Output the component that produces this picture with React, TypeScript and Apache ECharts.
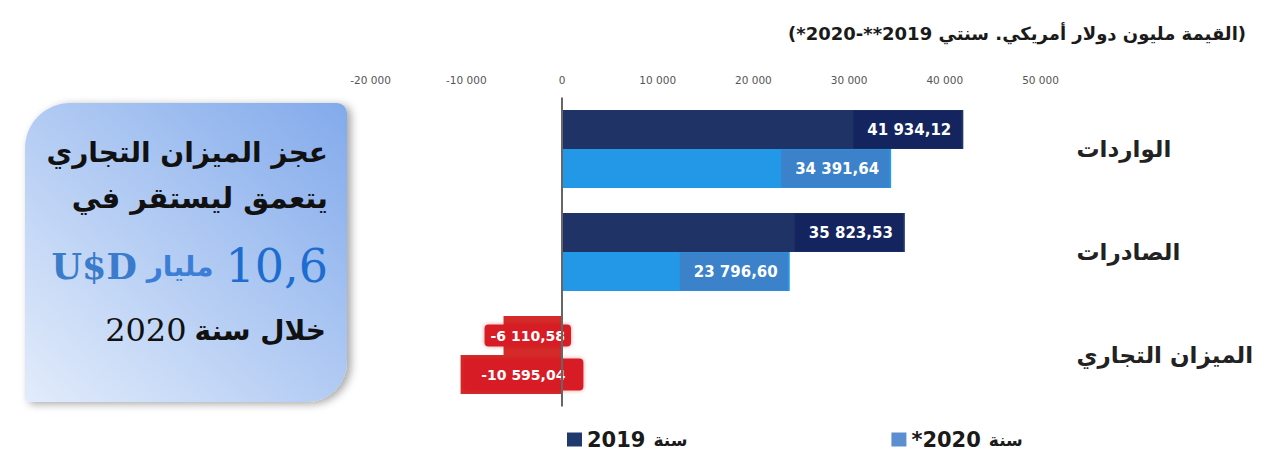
import React, { useEffect, useRef } from "react";
import * as echarts from "echarts";

const categories = ["الواردات", "الصادرات", "الميزان التجاري"];
const values2019 = [41934.12, 35823.53, -6110.58];
const values2020 = [34391.64, 23796.6, -10595.04];
const axisTicks = [-20000, -10000, 0, 10000, 20000, 30000, 40000, 50000];
const legendNames = ["2019", "*2020"];
const title = "(القيمة مليون دولار أمريكي. سنتي 2019**-2020*)";

const fmtNum = (v: number, dec: number) => {
  const neg = v < 0;
  const a = Math.abs(v);
  const fixed = a.toFixed(dec);
  const [ip, dp] = fixed.split(".");
  const grouped = ip.replace(/\B(?=(\d{3})+(?!\d))/g, " ");
  return (neg ? "-" : "") + grouped + (dp ? "," + dp : "");
};
// force left-to-right visual order for numeric strings
const ltr = (s: string) => "\u202D" + s + "\u202C";

const ARABIC = "'DejaVu Sans', sans-serif";
const SERIF = "'DejaVu Serif', serif";

export default function App() {
  const ref = useRef<HTMLDivElement>(null);
  useEffect(() => {
    if (!ref.current) return;
    const chart = echarts.init(ref.current, undefined, { renderer: "svg" });

    const posLabel = (bg: string) => ({
      show: true,
      position: "insideRight",
      distance: 2,
      color: "#ffffff",
      fontFamily: ARABIC,
      fontWeight: "bold",
      fontSize: 15,
      lineHeight: 16,
      backgroundColor: bg,
      padding: [11, 10, 11, 14],
      formatter: (p: any) => ltr(fmtNum(p.value, 2)),
    });
    const negLabel = (offX: number, pad: number[]) => ({
      show: true,
      position: "inside",
      offset: [offX, 0],
      color: "#ffffff",
      fontFamily: ARABIC,
      fontWeight: "bold",
      fontSize: 14,
      lineHeight: 16,
      backgroundColor: "#d81f26",
      borderRadius: 4,
      shadowColor: "rgba(200,0,0,0.4)",
      shadowBlur: 4,
      padding: pad,
      formatter: (p: any) => ltr(fmtNum(p.value, 2)),
    });

    const buildData = (vals: number[], color: string, bg: string, neg: any) =>
      vals.map((v) =>
        v < 0
          ? { value: v, itemStyle: { color: "#d42a2a" }, label: neg }
          : { value: v, itemStyle: { color }, label: posLabel(bg) }
      );

    const option: any = {
      animation: false,
      backgroundColor: "#ffffff",
      textStyle: { fontFamily: ARABIC },
      grid: { left: 370.6, right: 223.5, top: 97.5, bottom: 55.5 },
      legend: {
        left: 562,
        top: 424,
        icon: "rect",
        itemWidth: 15,
        itemHeight: 14,
        itemGap: 204,
        data: [
          { name: legendNames[0], itemStyle: { color: "#203a6e" } },
          { name: legendNames[1], itemStyle: { color: "#5b8fd2" } },
        ],
        formatter: (n: string) => `{y|${n}}{s|سنة}`,
        textStyle: {
          rich: {
            y: { fontFamily: ARABIC, fontWeight: "bold", fontSize: 21, color: "#1a1a1a", padding: [0, 8, 0, 0] },
            s: { fontFamily: ARABIC, fontWeight: "bold", fontSize: 17, color: "#1a1a1a" },
          },
        },
      },
      xAxis: {
        type: "value",
        position: "top",
        min: axisTicks[0],
        max: axisTicks[axisTicks.length - 1],
        interval: 10000,
        axisLine: { show: false },
        axisTick: { show: false },
        splitLine: { show: false },
        axisLabel: {
          margin: 12,
          fontSize: 10.5,
          color: "#555",
          fontFamily: ARABIC,
          formatter: (v: number) => ltr(fmtNum(v, 0)),
        },
      },
      yAxis: {
        type: "category",
        data: categories,
        inverse: true,
        position: "right",
        axisLine: { show: false },
        axisTick: { show: false },
        axisLabel: {
          margin: 36,
          fontSize: 23,
          fontWeight: "bold",
          color: "#222",
          fontFamily: ARABIC,
          align: "left",
        },
      },
      series: [
        {
          name: legendNames[0],
          type: "bar",
          barWidth: 39,
          barGap: "0%",
          itemStyle: { color: "#1f3366" },
          data: buildData(values2019, "#1f3366", "#14245e", negLabel(-5, [3, 6, 3, 6])),
          markLine: {
            silent: true,
            symbol: "none",
            label: { show: false },
            lineStyle: { color: "#666", width: 2, type: "solid" },
            data: [{ xAxis: 0 }],
          },
        },
        {
          name: legendNames[1],
          type: "bar",
          barWidth: 39,
          barGap: "0%",
          itemStyle: { color: "#2398e6" },
          data: buildData(values2020, "#2398e6", "#3b82cb", negLabel(12, [8, 18, 8, 18])),
        },
      ],
      graphic: [
        {
          type: "text",
          right: 18,
          top: 24,
          style: {
            text: "\u202B" + title + "\u202C",
            font: `bold 18px ${ARABIC}`,
            fill: "#1a1a1a",
          },
        },
        {
          type: "rect",
          shape: { x: 25, y: 103, width: 322, height: 299, r: [45, 10, 40, 4] },
          style: {
            fill: new echarts.graphic.LinearGradient(1, 0, 0, 1, [
              { offset: 0, color: "#82aaeb" },
              { offset: 1, color: "#e2ecfb" },
            ]),
            shadowColor: "rgba(0,0,0,0.35)",
            shadowBlur: 8,
            shadowOffsetX: 4,
            shadowOffsetY: 2,
          },
          z: 1,
        },
        {
          type: "text",
          x: 328,
          y: 152,
          z: 2,
          style: {
            text: "عجز الميزان التجاري",
            font: `bold 28px ${ARABIC}`,
            fill: "#111",
            align: "right",
            verticalAlign: "middle",
          },
        },
        {
          type: "text",
          x: 328,
          y: 198,
          z: 2,
          style: {
            text: "يتعمق ليستقر في",
            font: `bold 29px ${ARABIC}`,
            fill: "#111",
            align: "right",
            verticalAlign: "middle",
          },
        },
        {
          type: "text",
          x: 328,
          y: 266,
          z: 2,
          style: {
            text: "{u|U$D}{m|مليار}{n|10,6}",
            align: "right",
            verticalAlign: "middle",
            rich: {
              u: { fontFamily: SERIF, fontWeight: "bold", fontSize: 35, fill: "#3a7bcb", color: "#3a7bcb" },
              m: { fontFamily: ARABIC, fontWeight: "bold", fontSize: 28, fill: "#3a7fd5", color: "#3a7fd5", padding: [0, 12, 0, 10] },
              n: { fontFamily: SERIF, fontSize: 46, fill: "#1c6dcf", color: "#1c6dcf" },
            },
          },
        },
        {
          type: "text",
          x: 326,
          y: 330,
          z: 2,
          style: {
            text: "{n|2020}{t|خلال سنة}",
            align: "right",
            verticalAlign: "middle",
            rich: {
              n: { fontFamily: SERIF, fontSize: 32, fill: "#111", color: "#111", padding: [0, 8, 0, 0] },
              t: { fontFamily: ARABIC, fontWeight: "bold", fontSize: 28, fill: "#111", color: "#111" },
            },
          },
        },
      ],
    };
    chart.setOption(option);
    return () => chart.dispose();
  }, []);
  return (
    <div
      ref={ref}
      style={{ position: "absolute", left: 0, top: 0, width: 1264, height: 462 }}
    />
  );
}
